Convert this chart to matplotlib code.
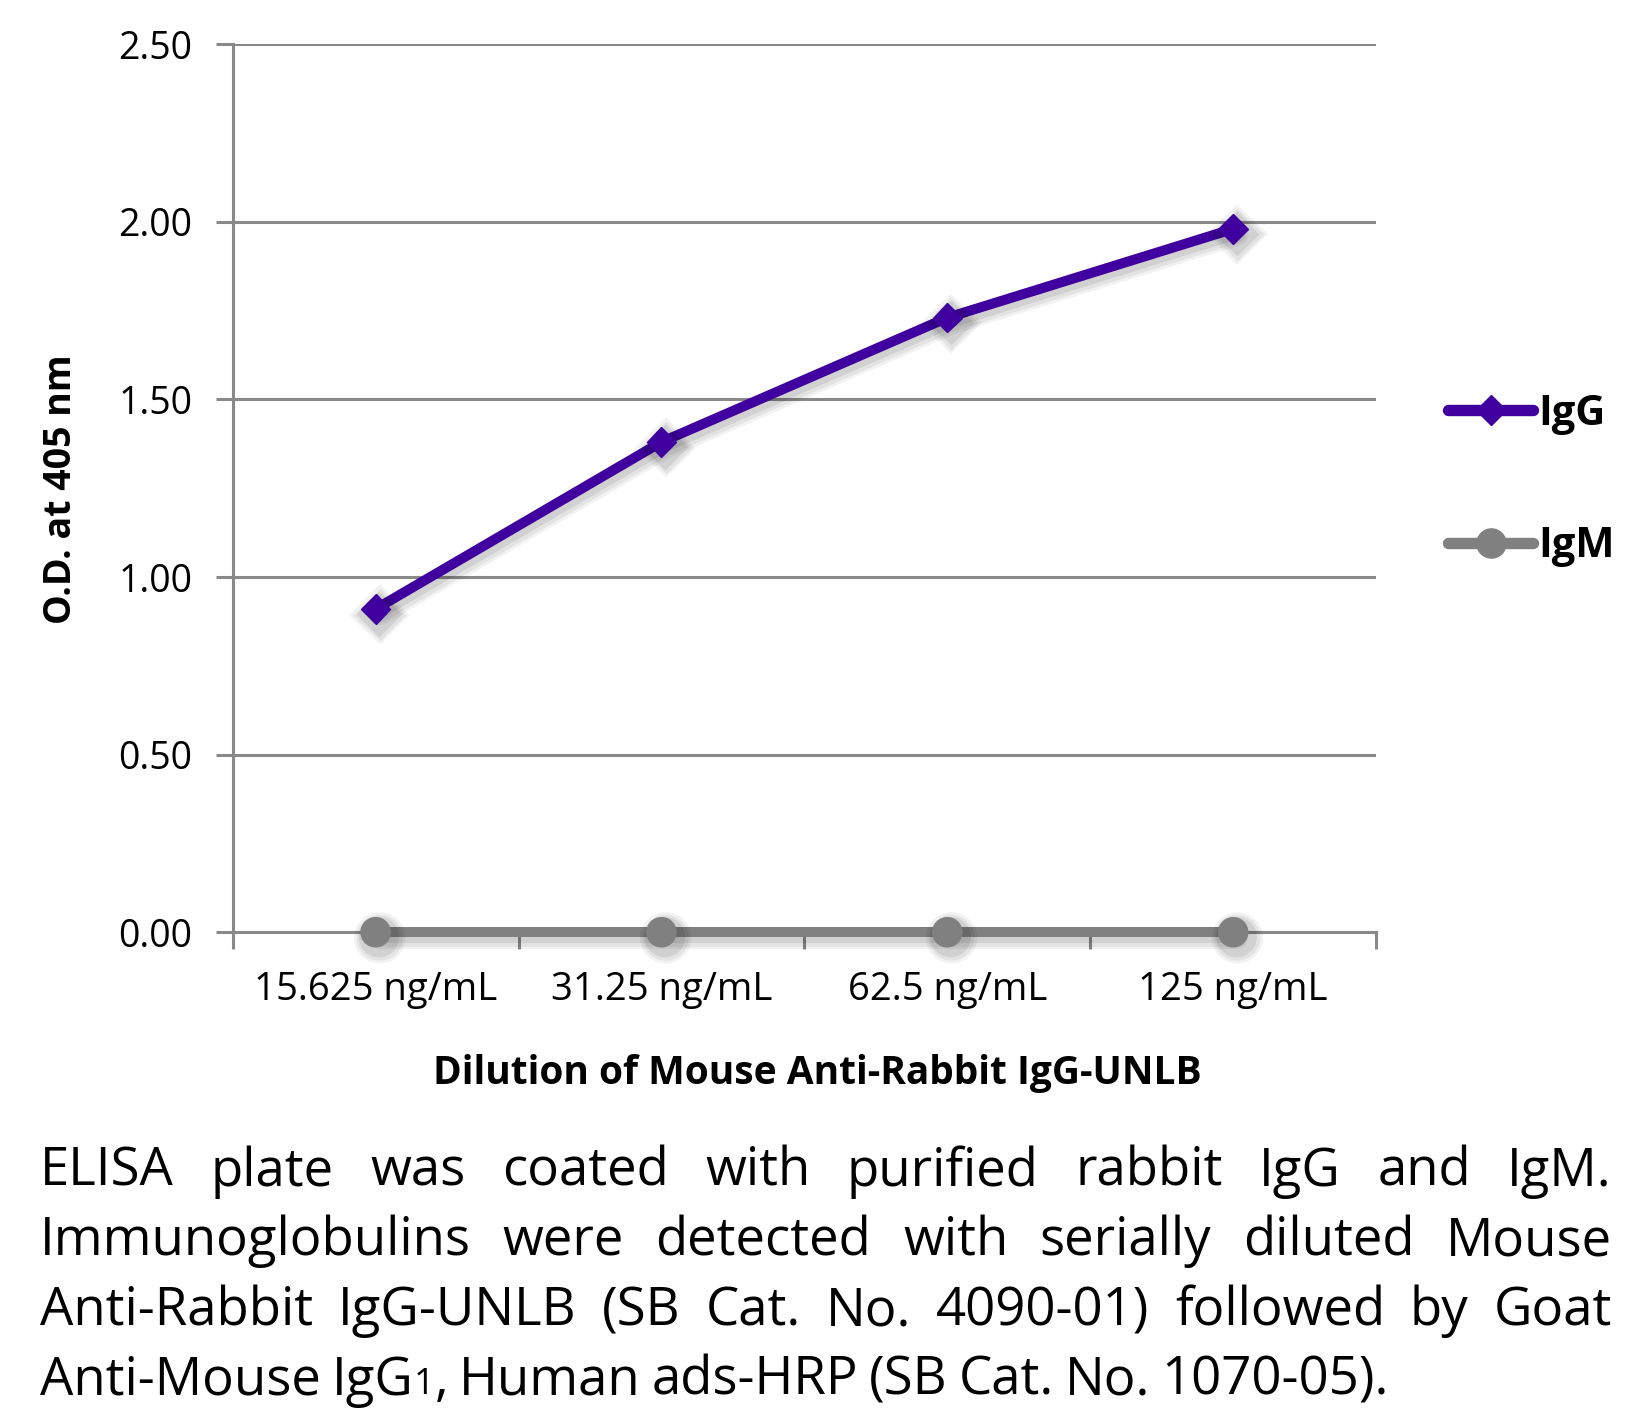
import matplotlib
matplotlib.use('Agg')
import matplotlib.pyplot as plt
import matplotlib.patheffects as pe
from matplotlib.lines import Line2D
import numpy as np

# ---------------- data ----------------
categories = ['15.625 ng/mL', '31.25 ng/mL', '62.5 ng/mL', '125 ng/mL']
igg_values = [0.91, 1.38, 1.73, 1.98]
igm_values = [0.0, 0.0, 0.0, 0.0]
series_names = ['IgG', 'IgM']
y_ticks = [0.0, 0.5, 1.0, 1.5, 2.0, 2.5]
y_label = 'O.D. at 405 nm'
x_label = 'Dilution of Mouse Anti-Rabbit IgG-UNLB'
caption_lines = [
    "ELISA plate was coated with purified rabbit IgG and IgM.",
    "Immunoglobulins were detected with serially diluted Mouse",
    "Anti-Rabbit IgG-UNLB (SB Cat. No. 4090-01) followed by Goat",
    "Anti-Mouse IgG_1, Human ads-HRP (SB Cat. No. 1070-05).",
]

FONT = 'Open Sans'
plt.rcParams['font.family'] = [FONT, 'DejaVu Sans']

W, H = 1650, 1411
fig = plt.figure(figsize=(W / 100, H / 100), dpi=100)
fig.patch.set_facecolor('white')
ax = fig.add_axes([0.141, 0.3393, 0.693, 0.6294])

GRID = '#898989'
PURPLE = '#3F009F'
GRAY = '#808080'
LW = 7.2

x = np.arange(len(categories))
shadow = [pe.SimpleLineShadow(offset=(3, -4), shadow_color='black', alpha=0.05, linewidth=16),
          pe.SimpleLineShadow(offset=(3, -4), shadow_color='black', alpha=0.06, linewidth=12),
          pe.SimpleLineShadow(offset=(2.5, -3.5), shadow_color='black', alpha=0.08, linewidth=8),
          pe.Normal()]
ax.plot(x, igm_values, color=GRAY, lw=LW, marker='o', ms=21, mec=GRAY,
        solid_capstyle='round', zorder=4, clip_on=False, path_effects=shadow,
        label=series_names[1])
ax.plot(x, igg_values, color=PURPLE, lw=LW, marker='D', ms=15, mec=PURPLE,
        solid_capstyle='round', zorder=5, clip_on=False, path_effects=shadow,
        label=series_names[0])

ax.set_xlim(-0.5, len(categories) - 0.5)
ax.set_ylim(0, 2.5)
ax.set_yticks(y_ticks)
ax.set_yticklabels([f'{v:.2f}' for v in y_ticks])
ax.set_xticks(x)
ax.set_xticklabels(categories)
ax.set_xticks(np.arange(-0.5, len(categories), 1), minor=True)

ax.yaxis.grid(True, color=GRID, lw=2.2, zorder=0)
ax.set_axisbelow(True)
for s in ['top', 'right']:
    ax.spines[s].set_visible(False)
for s in ['left', 'bottom']:
    ax.spines[s].set_color(GRID)
    ax.spines[s].set_linewidth(2.2)

ax.tick_params(axis='x', which='major', length=0, pad=28, labelsize=27.5)
ax.tick_params(axis='x', which='minor', length=12, width=2.2, color=GRID, direction='out')
ax.tick_params(axis='y', which='major', length=12, width=2.2, color=GRID,
               direction='out', pad=17, labelsize=27)

ax.set_ylabel(y_label, fontsize=27, fontweight='bold', va='center')
ax.yaxis.set_label_coords(0.037, 0.6536, transform=fig.transFigure)
ax.set_xlabel(x_label, fontsize=28, fontweight='bold', va='center')
ax.xaxis.set_label_coords(0.4956, 0.2393, transform=fig.transFigure)

handles = [Line2D([], [], color=PURPLE, lw=LW + 1, marker='D', ms=15, solid_capstyle='round'),
           Line2D([], [], color=GRAY, lw=LW + 1, marker='o', ms=21, solid_capstyle='round')]
leg = ax.legend(handles, series_names, loc='center left',
                bbox_to_anchor=(0.8776, 0.6594), bbox_transform=fig.transFigure,
                frameon=False, borderpad=0, borderaxespad=0, handlelength=2.05,
                handletextpad=0.12, labelspacing=2.2, numpoints=1,
                prop={'family': FONT, 'weight': 'bold', 'size': 30})

# ---------------- justified caption ----------------
CAP_SIZE = 38
SUB_SIZE = 26
left_px, right_px = 40, 1612
baselines_px = [1186, 1255.5, 1325, 1394.5]
fig.canvas.draw()
renderer = fig.canvas.get_renderer()


def word_pieces(word):
    if '_1' in word:
        a, b = word.split('_1')
        return [(a, CAP_SIZE), ('1', SUB_SIZE), (b, CAP_SIZE)]
    return [(word, CAP_SIZE)]


def piece_width(txt, size):
    if not txt:
        return 0.0
    t = fig.text(0, 0, txt, fontsize=size, family=FONT)
    w = t.get_window_extent(renderer).width
    t.remove()
    return w


tsp = fig.text(0, 0, 'a a', fontsize=CAP_SIZE, family=FONT)
w_aa = tsp.get_window_extent(renderer).width
tsp.remove()
space_w = w_aa - 2 * piece_width('a', CAP_SIZE)

for i, line in enumerate(caption_lines):
    words = line.split(' ')
    wp = [word_pieces(w) for w in words]
    widths = [sum(piece_width(t, s) for t, s in p) for p in wp]
    total = sum(widths)
    if i < len(caption_lines) - 1:
        gap = (right_px - left_px - total) / (len(words) - 1)
    else:
        gap = space_w * 0.8
    xpos = left_px
    yb = 1 - baselines_px[i] / H
    for p, w in zip(wp, widths):
        xx = xpos
        for t, s in p:
            if t:
                fig.text(xx / W, yb, t, fontsize=s, family=FONT, ha='left',
                         va='baseline', color='black')
                xx += piece_width(t, s)
        xpos += w + gap

fig.savefig('out.png', dpi=100, facecolor='white')
